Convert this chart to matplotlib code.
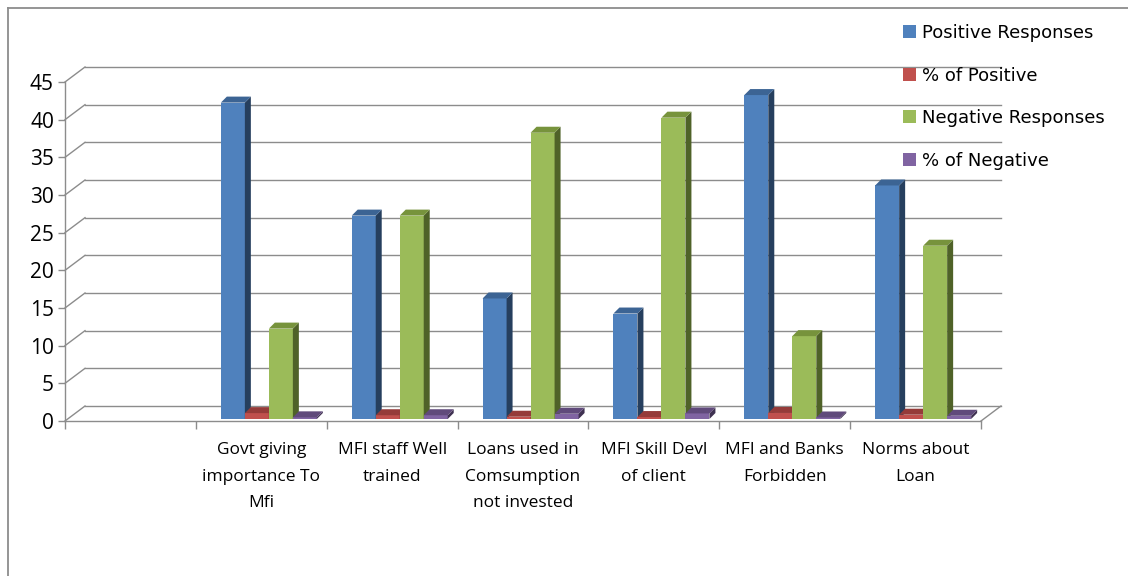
import matplotlib
matplotlib.use("Agg")
import matplotlib.pyplot as plt
from matplotlib.patches import Polygon, Patch
from matplotlib.lines import Line2D

# ---- data ----
categories = ["",
              "Govt giving\nimportance To\nMfi",
              "MFI staff Well\ntrained",
              "Loans used in\nComsumption\nnot invested",
              "MFI Skill Devl\nof client",
              "MFI and Banks\nForbidden",
              "Norms about\nLoan"]
series_names = ["Positive Responses", "% of Positive", "Negative Responses", "% of Negative"]
positive = [None, 42, 27, 16, 14, 43, 31]
pct_positive = [None, 0.78, 0.50, 0.30, 0.26, 0.80, 0.57]
negative = [None, 12, 27, 38, 40, 11, 23]
pct_negative = [None, 0.22, 0.50, 0.70, 0.74, 0.20, 0.43]
y_ticks = [0, 5, 10, 15, 20, 25, 30, 35, 40, 45]

# front / top / side shades for each series
face_colors = ["#4F81BD", "#C0504D", "#9BBB59", "#8064A2"]
top_colors = ["#3C6494", "#953B39", "#77933C", "#604A7B"]
side_colors = ["#263F5E", "#7A2E2C", "#4F6228", "#3F3151"]

W, H = 1128, 576
fig = plt.figure(figsize=(W / 100, H / 100), dpi=100)

# plot area (front plane) in pixels
x0_px, x1_px = 65, 981
y0_px, y1_px = 421, 82
ax = fig.add_axes([x0_px / W, 1 - y0_px / H, (x1_px - x0_px) / W, (y0_px - y1_px) / H])
ncat = len(categories)
ax.set_xlim(0, ncat)
ax.set_ylim(0, 45)

px_x = (x1_px - x0_px) / ncat
px_y = (y0_px - y1_px) / 45.0

# wall depth (back wall offset) and bar depth in data units
wall_dx, wall_dy = 20 / px_x, 15 / px_y
bar_dx, bar_dy = 6 / px_x, 6 / px_y
bar_lift = 2 / px_y
bar_w = 24 / px_x
bar_start = 25 / px_x

grid_col = "#8C8C8C"

# back wall gridlines and side-wall diagonals
for v in y_ticks:
    ax.plot([wall_dx, ncat + wall_dx], [v + wall_dy, v + wall_dy],
            color=grid_col, lw=1.0, clip_on=False, zorder=1)
    ax.plot([0, wall_dx], [v, v + wall_dy], color=grid_col, lw=1.0,
            clip_on=False, zorder=1)
# floor right edge
ax.plot([ncat, ncat + wall_dx], [0, wall_dy], color=grid_col, lw=1.0,
        clip_on=False, zorder=1)

# bars
all_series = [positive, pct_positive, negative, pct_negative]
z = 3
for ci in range(ncat):
    for si, vals in enumerate(all_series):
        v = vals[ci]
        if v is None:
            continue
        xl = ci + bar_start + si * bar_w
        xr = xl + bar_w
        bot = bar_lift
        top = v + bar_lift
        ax.bar(xl, v, width=bar_w, bottom=bot, align="edge",
               color=face_colors[si], linewidth=0, zorder=z, clip_on=False)
        ax.add_patch(Polygon([(xr, bot), (xr + bar_dx, bot + bar_dy),
                              (xr + bar_dx, top + bar_dy), (xr, top)],
                             closed=True, facecolor=side_colors[si],
                             edgecolor="none", zorder=z, clip_on=False))
        ax.add_patch(Polygon([(xl, top), (xr, top), (xr + bar_dx, top + bar_dy),
                              (xl + bar_dx, top + bar_dy)],
                             closed=True, facecolor=top_colors[si],
                             edgecolor="none", zorder=z, clip_on=False))
        z += 1

# axes styling
for s in ["top", "right"]:
    ax.spines[s].set_visible(False)
for s in ["left", "bottom"]:
    ax.spines[s].set_color(grid_col)
    ax.spines[s].set_linewidth(1.0)
    ax.spines[s].set_zorder(50)
ax.set_facecolor("none")

ax.set_yticks(y_ticks)
ax.set_yticklabels([str(t) for t in y_ticks], fontfamily="Open Sans", fontsize=15)
ax.tick_params(axis="y", length=5, width=1.0, color=grid_col, pad=3)

ax.set_xticks([i for i in range(ncat + 1)], minor=True)
ax.set_xticks([i + 0.5 for i in range(ncat)])
ax.set_xticklabels(categories, fontfamily="Open Sans", fontsize=12.5,
                   linespacing=1.9, va="top")
ax.tick_params(axis="x", which="major", length=0, pad=15)
ax.tick_params(axis="x", which="minor", length=6, width=1.0, color=grid_col)

# legend
handles = [Patch(facecolor=c, edgecolor="none") for c in face_colors]
fig.legend(handles, series_names, loc="upper left",
           bbox_to_anchor=(903 / W, 1 - 24 / H), frameon=False,
           prop={"family": "DejaVu Sans", "size": 13},
           handlelength=0.7, handleheight=0.7, handletextpad=0.35,
           labelspacing=1.36, borderaxespad=0, borderpad=0)

# chart border (top and left edges)
fig.add_artist(Line2D([7.5 / W, 7.5 / W], [0, 1 - 8 / H], color="#8C8C8C", lw=1.3))
fig.add_artist(Line2D([7.5 / W, 1], [1 - 8 / H, 1 - 8 / H], color="#8C8C8C", lw=1.3))

fig.savefig("out.png", dpi=100, facecolor="white")
